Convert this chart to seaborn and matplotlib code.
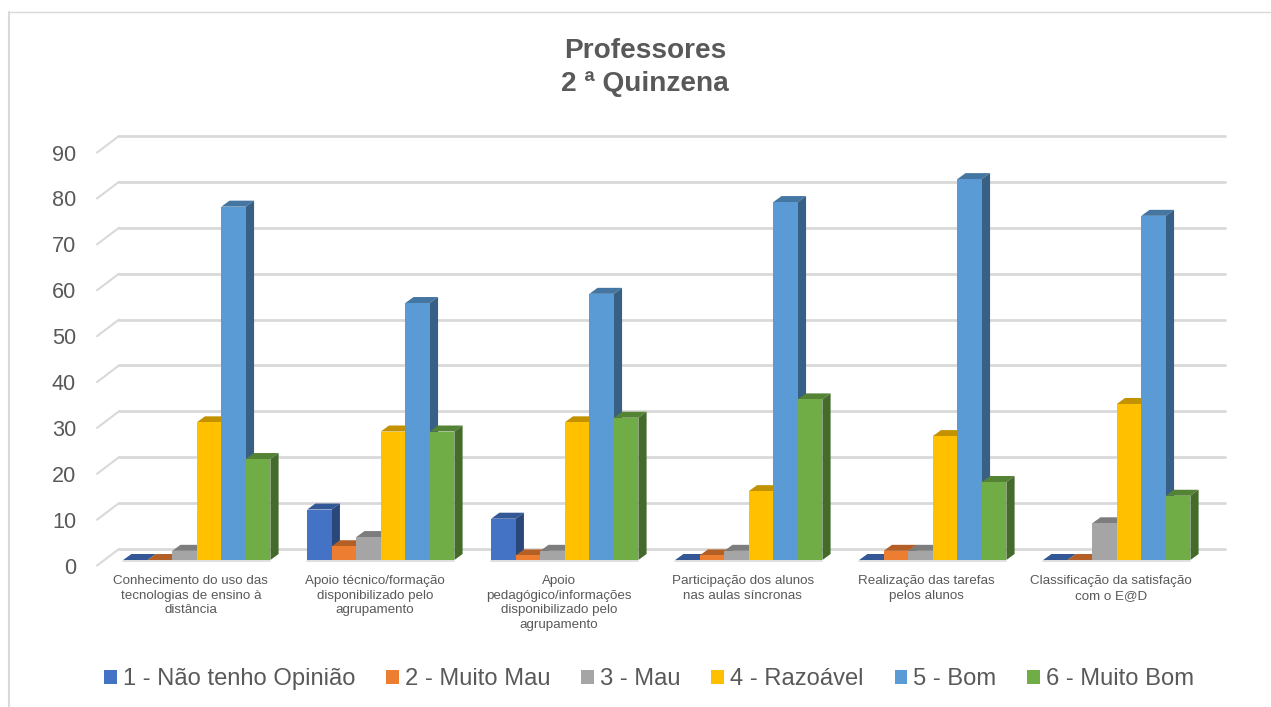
import numpy as np
import pandas as pd
import matplotlib
matplotlib.use("Agg")
import matplotlib.pyplot as plt
from matplotlib.lines import Line2D
from matplotlib.patches import Polygon
from matplotlib.transforms import ScaledTranslation
from matplotlib.colors import to_rgb
import seaborn as sns

categories = [
    "Conhecimento do uso das\ntecnologias de ensino à\ndistância",
    "Apoio técnico/formação\ndisponibilizado pelo\nagrupamento",
    "Apoio\npedagógico/informações\ndisponibilizado pelo\nagrupamento",
    "Participação dos alunos\nnas aulas síncronas",
    "Realização das tarefas\npelos alunos",
    "Classificação da satisfação\ncom o E@D",
]
series_names = ["1 - Não tenho Opinião", "2 - Muito Mau", "3 - Mau",
                "4 - Razoável", "5 - Bom", "6 - Muito Bom"]
s1 = [0, 11, 9, 0, 0, 0]
s2 = [0, 3, 1, 1, 2, 0]
s3 = [2, 5, 2, 2, 2, 8]
s4 = [30, 28, 30, 15, 27, 34]
s5 = [77, 56, 58, 78, 83, 75]
s6 = [22, 28, 31, 35, 17, 14]
colors = ["#4472C4", "#ED7D31", "#A5A5A5", "#FFC000", "#5B9BD5", "#70AD47"]
y_ticks = list(range(0, 100, 10))
title = "Professores\n2 ª Quinzena"

W, H, DPI = 1271, 707, 100
TXT = "#595959"
GRID = "#D9D9D9"

sns.set_theme(style="white")
plt.rcParams["font.family"] = ["Liberation Sans", "DejaVu Sans"]

df = pd.DataFrame({"cat": categories})
for name, vals in zip(series_names, [s1, s2, s3, s4, s5, s6]):
    df[name] = vals
long = df.melt(id_vars="cat", var_name="serie", value_name="valor")

fig = plt.figure(figsize=(W / DPI, H / DPI), dpi=DPI)
# axes box: value 0 at y=560 px, value 90 at y=147 px
x0, x1, ytop, ybot = 104.8, 1208.8, 147.0, 560.0
ax = fig.add_axes([x0 / W, 1 - ybot / H, (x1 - x0) / W, (ybot - ytop) / H])
sns.barplot(data=long, x="cat", y="valor", hue="serie", hue_order=series_names,
            palette=colors, saturation=1, width=0.8, gap=0, ax=ax, legend=True,
            linewidth=0)
ax.set_xlim(-0.5, 5.5)
ax.set_ylim(0, 90)
ax.set_xlabel("")
ax.set_ylabel("")
sns.despine(ax=ax, left=True, bottom=True)
ax.patch.set_alpha(0)

px_x = (x1 - x0) / 6   # px per category
px_y = (ybot - ytop) / 90  # px per value


def shade(c, f):
    return tuple(v * f for v in to_rgb(c))


# walls: back gridlines and side diagonals
gb_dx, gb_dy = (119 - x0) / px_x, 11 / px_y       # back-left offset
gf_dx, gf_dy = (97 - x0) / px_x, -5.6 / px_y      # front-left offset
gr_x = -0.5 + (1225 - x0) / px_x
for v in y_ticks:
    ax.plot([-0.5 + gf_dx, -0.5 + gb_dx], [v + gf_dy, v + gb_dy],
            color=GRID, lw=1.5, clip_on=False, zorder=1)
    ax.plot([-0.5 + gb_dx, gr_x], [v + gb_dy, v + gb_dy],
            color=GRID, lw=2.0, clip_on=False, zorder=1)

# depth of bars
bd_x, bd_y = 8.2 / px_x, 6.0 / px_y
for i, cont in enumerate(ax.containers):
    c = colors[i]
    for bar in cont:
        l, b, w, h = bar.get_x(), bar.get_y(), bar.get_width(), bar.get_height()
        r, t = l + w, b + h
        top = Polygon([(l, t), (r, t), (r + bd_x, t + bd_y), (l + bd_x, t + bd_y)],
                      closed=True, fc=shade(c, 0.76), ec="none", clip_on=False,
                      zorder=10 + 2 * i)
        ax.add_patch(top)
        if h > 0:
            side = Polygon([(r, b), (r + bd_x, b + bd_y), (r + bd_x, t + bd_y), (r, t)],
                           closed=True, fc=shade(c, 0.62), ec="none", clip_on=False,
                           zorder=10 + 2 * i)
            ax.add_patch(side)
        bar.set_zorder(11 + 2 * i)
        bar.set_clip_on(False)

# thin floor edge below every group
for g in range(6):
    ax.plot([g - 0.4, g + 0.4], [-0.15, -0.15], color=GRID, lw=1.2,
            clip_on=False, zorder=9)

# ticks
ax.set_yticks(y_ticks)
ax.tick_params(axis="y", length=0, pad=20.7, labelsize=15.6, labelcolor=TXT)
ax.tick_params(axis="x", length=0, pad=11.0, labelsize=9.6, labelcolor=TXT)
for lab in ax.get_yticklabels():
    lab.set_transform(lab.get_transform() + ScaledTranslation(0, -5.6 / DPI, fig.dpi_scale_trans))
for lab in ax.get_xticklabels():
    lab.set_transform(lab.get_transform() + ScaledTranslation(-6 / DPI, 0, fig.dpi_scale_trans))
    lab.set_linespacing(1.28)

# legend
leg = ax.legend(loc="upper left", bbox_to_anchor=(104 / W, 1 - 668 / H),
                bbox_transform=fig.transFigure, ncols=6, frameon=False,
                fontsize=17.1, handlelength=0.54, handleheight=0.54,
                handletextpad=0.25, columnspacing=1.3, borderpad=0, borderaxespad=0)
for t in leg.get_texts():
    t.set_color(TXT)

fig.suptitle(title, x=645 / W, y=1 - 38 / H, fontsize=20.2, fontweight="bold",
             color=TXT, linespacing=1.36, va="top")

# chart frame
fig.add_artist(Line2D([9 / W, 9 / W], [0, 1 - 11.5 / H], color=GRID, lw=1.5))
fig.add_artist(Line2D([9 / W, 1], [1 - 11.5 / H, 1 - 11.5 / H], color=GRID, lw=1.0))

fig.savefig("out.png", dpi=DPI)
